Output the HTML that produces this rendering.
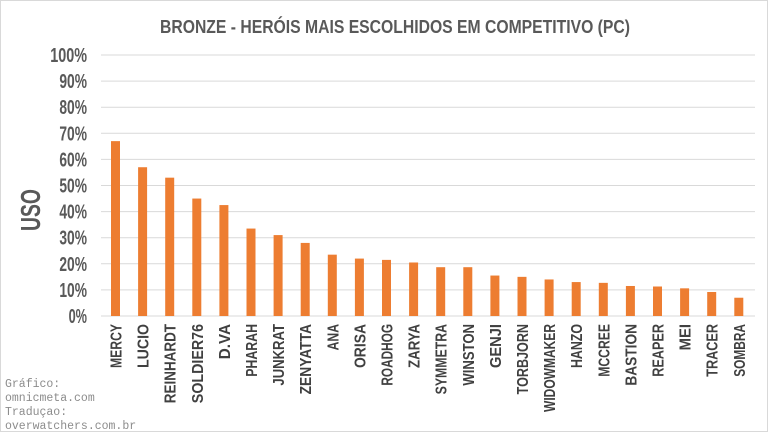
<!DOCTYPE html>
<html><head><meta charset="utf-8"><style>
html,body{margin:0;padding:0;background:#fff;}
svg{display:block}
</style></head><body>
<svg width="768" height="432" viewBox="0 0 768 432" xmlns="http://www.w3.org/2000/svg">
<rect x="0.5" y="0.5" width="767" height="431" fill="#fff" stroke="#d9d9d9"/>
<text x="395" y="33" text-anchor="middle" font-family="Liberation Sans, sans-serif" font-weight="bold" font-size="18" fill="#595959" textLength="470" lengthAdjust="spacingAndGlyphs">BRONZE - HERÓIS MAIS ESCOLHIDOS EM COMPETITIVO (PC)</text>
<text transform="translate(40,210) rotate(-90)" text-anchor="middle" font-family="Liberation Sans, sans-serif" font-weight="bold" font-size="28" fill="#595959" textLength="42" lengthAdjust="spacingAndGlyphs">USO</text>
<g id="grid" stroke="#d9d9d9" stroke-width="1"></g>
<g id="yl" font-family="Liberation Sans, sans-serif" font-weight="bold" font-size="20" fill="#595959" text-anchor="end"></g>
<g id="bars" fill="#ed7d31"></g>
<g id="xl" font-family="Liberation Sans, sans-serif" font-weight="bold" font-size="16" fill="#404040" text-anchor="end"></g>
<g font-family="Liberation Mono, monospace" font-size="11.5" fill="#8c8c8c">
<text x="5" y="387">Gráfico:</text>
<text x="5" y="401">omnicmeta.com</text>
<text x="5" y="415">Traduçao:</text>
<text x="5" y="429">overwatchers.com.br</text>
</g>
<script>
(function(){
var ns="http://www.w3.org/2000/svg";
function el(t,a,p,txt){var e=document.createElementNS(ns,t);for(var k in a)e.setAttribute(k,a[k]);if(txt)e.textContent=txt;document.getElementById(p).appendChild(e);}
var y0=316,step=26.1;
for(var i=0;i<=10;i++){var y=y0-i*step;
 el("line",{x1:101,x2:755,y1:y,y2:y},"grid");
 var s=(i*10)+"%";
 el("text",{x:87,y:y+7,textLength:s.length*9.2,lengthAdjust:"spacingAndGlyphs"},"yl",s);}
var names=["MERCY","LUCIO","REINHARDT","SOLDIER76","D.VA","PHARAH","JUNKRAT","ZENYATTA","ANA","ORISA","ROADHOG","ZARYA","SYMMETRA","WINSTON","GENJI","TORBJORN","WIDOWMAKER","HANZO","MCCREE","BASTION","REAPER","MEI","TRACER","SOMBRA"];
var vals=[67,57,53,45,42.5,33.5,31,28,23.5,22,21.5,20.5,18.7,18.7,15.5,15,14,13,12.7,11.5,11.3,10.6,9.2,7];
for(var j=0;j<24;j++){var cx=115.5+j*27.1;var h=vals[j]*2.61;
 el("rect",{x:cx-4.5,y:y0-h,width:9,height:h},"bars");
 var n=names[j];
 el("text",{transform:"translate("+(cx+6)+",324) rotate(-90)",textLength:n.length*8.8,lengthAdjust:"spacingAndGlyphs"},"xl",n);}
})();
</script>
</svg>
</body></html>
